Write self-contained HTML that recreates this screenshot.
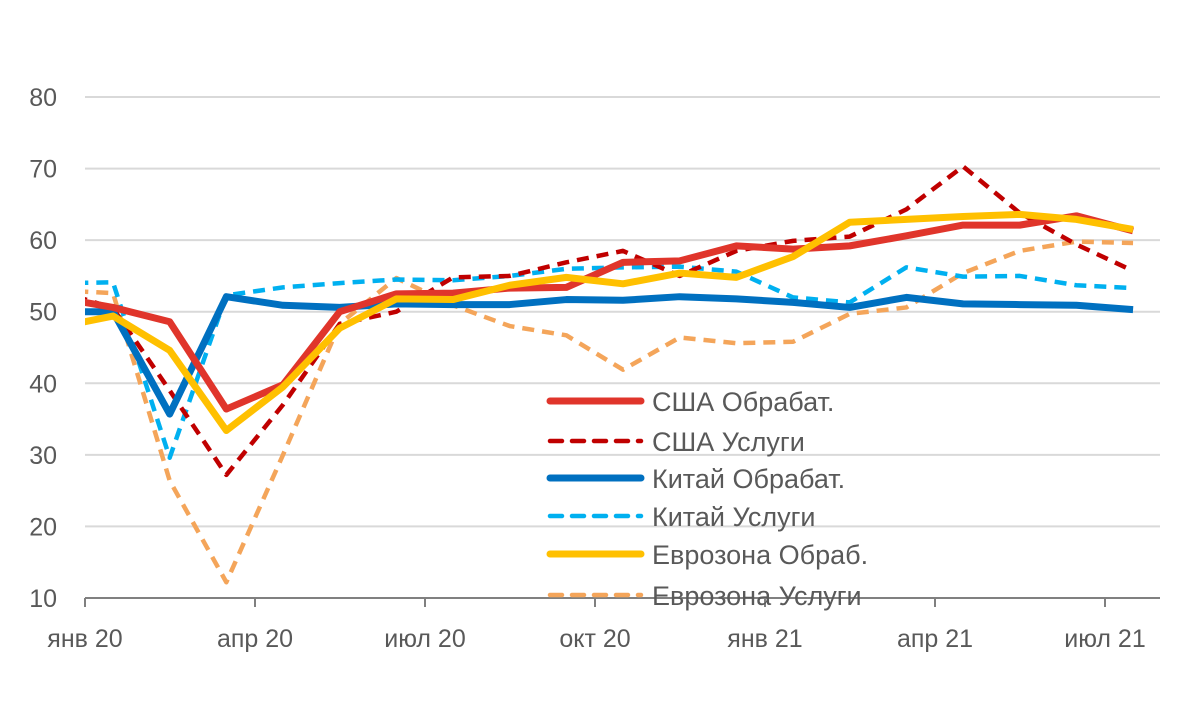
<!DOCTYPE html>
<html><head><meta charset="utf-8"><style>
body{margin:0;background:#fff}
svg{display:block;font-family:"Liberation Sans",sans-serif}
</style></head><body>
<svg id="c" width="1200" height="701" viewBox="0 0 1200 701">
<defs><clipPath id="pc"><rect x="85" y="0" width="1075" height="701"/></clipPath></defs>
<g id="grid"></g>
<g id="yaxis"></g>
<g id="xaxis"></g>
<g id="series" clip-path="url(#pc)"></g>
<g id="legend"></g>
</svg>
<script>
// months Dec19 .. Jul21 (index 0 = Dec19)
const usMfg   = [52,50.6,48.6,36.4,39.8,50,52.5,52.6,53.3,53.4,56.9,57.1,59.2,58.75,59.2,60.6,62.1,62.1,63.4,61.3];
const usSvc   = [53,50.5,39,27.2,37,48.3,50,54.8,55,56.9,58.5,55,58.5,59.9,60.5,64.3,70.3,63.8,59.4,55.7];
const cnMfg   = [50,50,35.7,52.1,50.9,50.6,51.1,51,51,51.7,51.6,52.1,51.8,51.3,50.6,52,51.1,51,50.9,50.3];
const cnSvc   = [54,54.1,29.6,52.3,53.4,54,54.5,54.4,55,56,56.2,56.3,55.6,52,51.3,56.2,54.9,55,53.7,53.3];
const euMfg   = [47.8,49.4,44.6,33.4,39.5,47.7,51.8,51.7,53.7,54.8,53.9,55.4,54.8,57.7,62.5,62.9,63.3,63.6,62.9,61.5];
const euSvc   = [53,52.6,26.4,12.2,30,48.3,54.7,50.9,48,46.7,41.9,46.4,45.6,45.8,49.7,50.6,55.4,58.5,59.8,59.6];
const yTicks  = [10,20,30,40,50,60,70,80];
const xTickLabels = ["янв 20","апр 20","июл 20","окт 20","янв 21","апр 21","июл 21"];
const legendNames = ["США Обрабат.","США Услуги","Китай Обрабат.","Китай Услуги","Еврозона Обраб.","Еврозона Услуги"];

const NS="http://www.w3.org/2000/svg";
const X0=85,X1=1160,Y10=598,PX=7.157;
const y=v=>Y10-(v-10)*PX;
const x=i=>56.33+56.67*i;
function mk(t,p,a){const e=document.createElementNS(NS,t);for(const k in a)e.setAttribute(k,a[k]);p.appendChild(e);return e;}

const grid=document.getElementById('grid'),ya=document.getElementById('yaxis'),xa=document.getElementById('xaxis');
yTicks.forEach(v=>{
  if(v>10){const l=mk('line',grid,{x1:X0,x2:X1,y1:y(v),y2:y(v),stroke:'#d9d9d9','stroke-width':2});
  
  }
  const t=mk('text',ya,{x:57,y:y(v)+9,'text-anchor':'end','font-size':25,fill:'#595959'});
  t.textContent=v;
  
  
});
const ax=mk('line',xa,{x1:X0,x2:X1,y1:Y10,y2:Y10,stroke:'#808080','stroke-width':2});


xTickLabels.forEach((s,j)=>{
  const tx=85+170*j;
  const tk=mk('line',xa,{x1:tx,x2:tx,y1:Y10,y2:Y10+9,stroke:'#808080','stroke-width':2});
  
  
  const t=mk('text',xa,{x:tx,y:647,'text-anchor':'middle','font-size':25,fill:'#595959'});
  t.textContent=s;
  
  
});
const sers=[
 [usMfg,'#E0352B',7,null],[usSvc,'#C00000',4.5,'12 8'],
 [cnMfg,'#0070C0',7,null],[cnSvc,'#00B0F0',4.5,'12 8'],
 [euMfg,'#FFC000',7,null],[euSvc,'#F4A55A',4.5,'12 8']];
const sg=document.getElementById('series'),lg=document.getElementById('legend');
const order=[5,3,1,2,0,4];
order.forEach(k=>{
  const [d,c,w,da]=sers[k];
  const a={points:d.map((v,i)=>x(i)+','+y(v)).join(' '),fill:'none',stroke:c,'stroke-width':w,'stroke-linejoin':'round'};
  if(da)a['stroke-dasharray']=da;
  const p=mk('polyline',sg,a);
  
  
});
const ry=[401,441,478,516,554,595];
sers.forEach((s,k)=>{
  const a={x1:550,x2:641,y1:ry[k],y2:ry[k],stroke:s[1],'stroke-width':s[2],'stroke-linecap':'round'};
  if(s[3])a['stroke-dasharray']='12 10';
  const l=mk('line',lg,a);
  
  
  const t=mk('text',lg,{x:652,y:ry[k]+10,'font-size':27,fill:'#595959'});
  t.textContent=legendNames[k];
  
  
});
</script>
</body></html>
